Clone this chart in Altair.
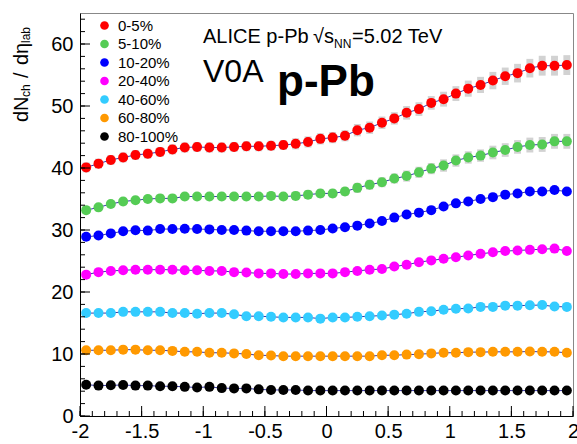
import altair as alt
import pandas as pd

eta = [-1.95, -1.85, -1.75, -1.65, -1.55, -1.45, -1.35, -1.25, -1.15, -1.05,
       -0.95, -0.85, -0.75, -0.65, -0.55, -0.45, -0.35, -0.25, -0.15, -0.05,
       0.05, 0.15, 0.25, 0.35, 0.45, 0.55, 0.65, 0.75, 0.85, 0.95,
       1.05, 1.15, 1.25, 1.35, 1.45, 1.55, 1.65, 1.75, 1.85, 1.95]

centralities = ["0-5%", "5-10%", "10-20%", "20-40%", "40-60%", "60-80%", "80-100%"]
colors = ["#ff0000", "#55cc55", "#0000ff", "#ff00ff", "#33ccff", "#ff9900", "#000000"]

v_0_5 = [40.1, 40.7, 41.3, 41.7, 42.1, 42.3, 42.6, 43.0, 43.3, 43.4,
         43.3, 43.3, 43.4, 43.5, 43.5, 43.6, 43.7, 43.9, 44.2, 44.7,
         44.9, 45.2, 46.1, 46.5, 47.3, 48.0, 48.9, 49.5, 50.5, 51.1,
         52.0, 52.8, 53.4, 54.1, 54.8, 55.3, 56.1, 56.5, 56.5, 56.6]
v_5_10 = [33.2, 33.65, 34.2, 34.6, 34.8, 35.0, 35.1, 35.1, 35.4, 35.4,
          35.4, 35.4, 35.4, 35.4, 35.4, 35.5, 35.4, 35.5, 35.7, 35.9,
          35.9, 36.2, 36.8, 37.3, 37.7, 38.3, 38.7, 39.3, 39.9, 40.4,
          41.2, 41.7, 42.0, 42.5, 42.9, 43.4, 43.7, 43.8, 44.3, 44.3]
v_10_20 = [28.9, 29.1, 29.45, 29.8, 29.95, 29.9, 30.15, 30.15, 30.2, 30.15,
           30.1, 30.0, 30.0, 29.9, 29.8, 29.8, 29.8, 29.8, 29.9, 30.0,
           30.25, 30.45, 30.7, 31.05, 31.45, 32.0, 32.5, 32.8, 33.2, 33.8,
           34.3, 34.6, 35.0, 35.3, 35.7, 35.9, 36.2, 36.2, 36.45, 36.2]
v_20_40 = [22.8, 23.2, 23.4, 23.5, 23.6, 23.6, 23.6, 23.6, 23.5, 23.5,
           23.4, 23.4, 23.2, 23.15, 23.0, 23.0, 22.9, 22.9, 23.0, 23.0,
           23.0, 23.2, 23.4, 23.6, 23.7, 24.1, 24.4, 24.8, 25.1, 25.35,
           25.6, 25.9, 26.15, 26.4, 26.6, 26.7, 26.8, 26.9, 27.0, 26.6]
v_40_60 = [16.6, 16.6, 16.6, 16.8, 16.8, 16.8, 16.8, 16.6, 16.6, 16.5,
           16.6, 16.6, 16.4, 16.1, 16.1, 16.0, 15.9, 15.9, 15.9, 15.7,
           15.9, 15.9, 16.0, 16.1, 16.2, 16.35, 16.5, 16.8, 16.9, 17.15,
           17.3, 17.35, 17.6, 17.6, 17.8, 17.8, 17.85, 17.9, 17.65, 17.6]
v_60_80 = [10.6, 10.6, 10.6, 10.7, 10.7, 10.6, 10.6, 10.5, 10.35, 10.35,
           10.2, 10.2, 10.1, 10.0, 9.8, 9.75, 9.65, 9.65, 9.65, 9.65,
           9.65, 9.65, 9.65, 9.65, 9.8, 9.8, 9.9, 9.95, 10.1, 10.2,
           10.2, 10.3, 10.3, 10.35, 10.35, 10.35, 10.4, 10.35, 10.35, 10.2]
v_80_100 = [5.05, 4.9, 4.95, 5.0, 4.9, 4.9, 4.8, 4.8, 4.7, 4.6,
            4.7, 4.5, 4.45, 4.45, 4.3, 4.2, 4.2, 4.2, 4.1, 4.1,
            4.1, 4.1, 4.1, 4.1, 4.1, 4.1, 4.1, 4.1, 4.1, 4.1,
            4.1, 4.1, 4.1, 4.1, 4.1, 4.1, 4.1, 4.1, 4.1, 4.1]

# systematic uncertainties (grey boxes), visible for the two most central classes
err_0_5 = [0.8, 0.8, 0.8, 0.8, 0.8, 0.8, 0.8, 0.8, 0.8, 0.8,
           0.8, 0.8, 0.8, 0.8, 0.8, 0.8, 0.8, 0.9, 0.9, 0.9,
           0.9, 0.9, 1.0, 1.0, 1.0, 1.0, 1.1, 1.1, 1.1, 1.2,
           1.2, 1.3, 1.3, 1.4, 1.4, 1.5, 1.5, 1.6, 1.6, 1.6]
err_5_10 = [0.6, 0.6, 0.6, 0.6, 0.6, 0.6, 0.6, 0.6, 0.6, 0.6,
            0.6, 0.6, 0.6, 0.6, 0.6, 0.6, 0.6, 0.7, 0.7, 0.7,
            0.7, 0.7, 0.8, 0.8, 0.8, 0.8, 0.9, 0.9, 0.9, 1.0,
            1.0, 1.0, 1.0, 1.1, 1.1, 1.1, 1.2, 1.2, 1.2, 1.2]

series = [v_0_5, v_5_10, v_10_20, v_20_40, v_40_60, v_60_80, v_80_100]
errors = {"0-5%": err_0_5, "5-10%": err_5_10}

x_major = [-2, -1.5, -1, -0.5, 0, 0.5, 1, 1.5, 2]
x_minor = [round(-2 + 0.1 * i, 1) for i in range(41)]
y_major = [0, 10, 20, 30, 40, 50, 60]
y_minor = list(range(0, 65, 2))

rows = []
for cent, vals in zip(centralities, series):
    for x, v in zip(eta, vals):
        rows.append({"eta": x, "val": v, "cent": cent})
df = pd.DataFrame(rows)

err_rows = []
for cent, errs in errors.items():
    vals = series[centralities.index(cent)]
    for x, v, e in zip(eta, vals, errs):
        err_rows.append({"eta": x - 0.028, "eta2": x + 0.028, "val": v - e, "val2": v + e})
df_err = pd.DataFrame(err_rows)

FONT = "Liberation Sans"
W, H = 493, 403
xs = alt.Scale(domain=[-2, 2], nice=False, zero=False)
ys = alt.Scale(domain=[0, 65], nice=False, zero=False)

ax_x = alt.Axis(values=x_major, ticks=False, grid=False, title=None, labelFontSize=20,
                labelFont=FONT, labelColor="black", labelPadding=5, labelFlush=False,
                labelOverlap=False, domainColor="black", labelExpr="'' + datum.value")
ax_y = alt.Axis(values=y_major, ticks=False, grid=False, title=None, labelFontSize=20,
                labelFont=FONT, labelColor="black", labelPadding=7, domainColor="black")

X = lambda f: alt.X(f, scale=xs, axis=ax_x, title=None)
Y = lambda f: alt.Y(f, scale=ys, axis=ax_y, title=None)

err_layer = alt.Chart(df_err).mark_rect(color="#d2d2d2").encode(
    x=X("eta:Q"), x2="eta2:Q", y=Y("val:Q"), y2="val2:Q")

line_layer = alt.Chart(df).mark_line(color="#3a3aa8", strokeWidth=1).encode(
    x=X("eta:Q"), y=Y("val:Q"), detail="cent:N")

points = alt.Chart(df).mark_circle(size=100, opacity=1).encode(
    x=X("eta:Q"), y=Y("val:Q"),
    color=alt.Color("cent:N", scale=alt.Scale(domain=centralities, range=colors),
                    sort=centralities,
                    legend=alt.Legend(title=None, orient="none", legendX=17, legendY=5,
                                      labelFontSize=15, labelFont=FONT, labelColor="black",
                                      symbolType="circle", symbolSize=75,
                                      symbolStrokeWidth=0, rowPadding=2.5, padding=0,
                                      labelOffset=6)))

def ticks_y(vals, length):
    return alt.Chart(pd.DataFrame({"val": vals})).mark_rule(color="black", strokeWidth=1).encode(
        y=Y("val:Q"), x=alt.value(0), x2=alt.value(length))

def ticks_x(vals, length):
    return alt.Chart(pd.DataFrame({"eta": vals})).mark_rule(color="black", strokeWidth=1).encode(
        x=X("eta:Q"), y=alt.value(H), y2=alt.value(H - length))

one = pd.DataFrame({"a": [0]})

def label(text, x, y, size, weight="normal", angle=0):
    kw = dict(text=text, font=FONT, fontSize=size, fontWeight=weight, align="left",
              baseline="alphabetic", color="black")
    if angle:
        kw["angle"] = angle
    return alt.Chart(one).mark_text(**kw).encode(x=alt.value(x), y=alt.value(y))

texts = [
    label("ALICE p-Pb", 123, 30, 20),
    label("√s", 233, 30, 20),
    label("NN", 254, 35, 12),
    label("=5.02 TeV", 272, 30, 20),
    label("V0A", 123, 69, 32),
    label("p-Pb", 197, 83, 44, weight="bold"),
    # rotated y-axis title  dN_ch / dη_lab
    label("dN", -52, 109, 20, angle=270),
    label("ch", -50, 84, 12, angle=270),
    label("/", -52, 65, 20, angle=270),
    label("dη", -52, 52, 20, angle=270),
    label("lab", -50, 30, 12, angle=270),
]

chart = alt.layer(
    err_layer, line_layer, points,
    ticks_y(y_minor, 5), ticks_y(y_major, 10),
    ticks_x(x_minor, 5), ticks_x(x_major, 10),
    *texts
).properties(
    width=W, height=H,
    autosize=alt.AutoSizeParams(type="none"),
    padding={"left": 80, "top": 13, "right": 4, "bottom": 28},
    background="white",
).configure_view(stroke="#888888", strokeWidth=1)

chart.save("out.html", embed_options={"renderer": "svg", "actions": False})
